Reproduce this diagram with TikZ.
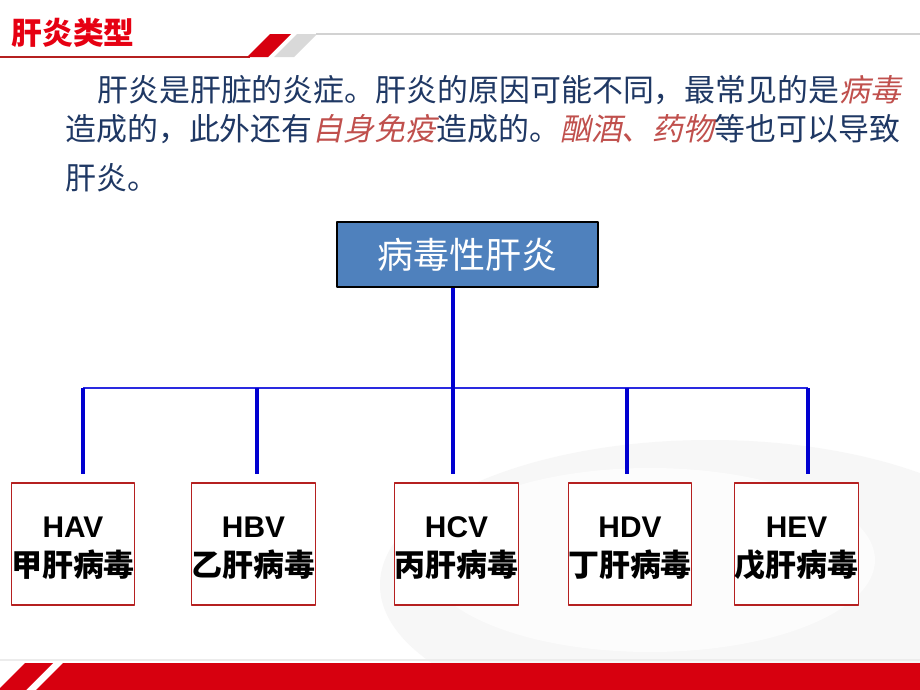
\documentclass[tikz,border=0pt]{standalone}
\usepackage{fontspec}
\setmainfont{Liberation Sans}
\newfontfamily\cjk{Noto Sans CJK SC}
\newfontfamily\cjkit[FakeSlant=0.2]{Noto Sans CJK SC}
\definecolor{titlered}{HTML}{E60012}
\definecolor{barred}{HTML}{D7000F}
\definecolor{textblue}{HTML}{1F3864}
\definecolor{wordred}{HTML}{C0504D}
\definecolor{boxblue}{HTML}{4F81BD}
\definecolor{linkblue}{HTML}{0000D0}
\definecolor{busblue}{HTML}{2A2AE0}
\definecolor{edgered}{HTML}{B52020}
\newcommand{\hlword}[1]{{\cjkit\color{wordred}#1}}
\newcommand{\vname}[2]{\raisebox{-0.1cm}[\height][\depth]{\begin{tabular}{@{}c@{}}#1\\[0pt]{\cjk\fontsize{17.6}{22}\selectfont #2}\end{tabular}}}

\begin{document}
\begin{tikzpicture}[x=0.02cm, y=-0.02cm, line join=round,
    para/.style={anchor=west, inner sep=0pt, text=textblue, font=\cjk\fontsize{17.6}{20}\selectfont},
    virus/.style={draw=edgered, line width=0.6pt, fill=white, minimum width=2.45cm, minimum height=2.44cm,
      inner sep=0pt, font=\fontsize{17}{22}\selectfont\bfseries},
    link/.style={draw=linkblue, line width=2pt, shorten >=0.16cm},
    bus/.style={draw=busblue, line width=1.3pt}]
  \useasboundingbox (0,0) rectangle (920,690);
  \fill[white] (0,0) rectangle (920,690);
  % faint plate in the background
  \fill[gray!6] (710,585) ellipse [x radius=330, y radius=145];
  \fill[gray!2] (650,560) ellipse [x radius=225, y radius=92];
  % header
  \node (title) at (73,33) {\cjk\bfseries\color{titlered}\fontsize{17.5}{20}\selectfont 肝炎类型};
  \draw[edgered, line width=0.8pt] (0,57) -- (250,57);
  \fill[barred] (247,57) -- (270,34) -- (291,34) -- (268,57) -- cycle;
  \fill[gray!30] (274,57) -- (297,34) -- (317,34) -- (294,57) -- cycle;
  \draw[gray!35, line width=1.2pt] (316,34) -- (920,34);
  % footer
  \draw[gray!15, line width=1pt] (0,660) -- (920,660);
  \fill[barred] (25,663) -- (53,663) -- (26,690) -- (-2,690) -- cycle;
  \fill[barred] (63,663) -- (920,663) -- (920,690) -- (36,690) -- cycle;
  % text
  \node[para] (l1) at (97,90) {肝炎是肝脏的炎症。肝炎的原因可能不同，最常见的是\hlword{病毒}};
  \node[para] (l2) at (65,129) {造成的，此外还有\hlword{自身免疫}造成的。\hlword{酗酒、药物}等也可以导致};
  \node[para] (l3) at (65,178) {肝炎。};
  % tree
  \node[draw=black, line width=1.2pt, fill=boxblue, minimum width=5.22cm, minimum height=1.3cm,
    text=white, font=\cjk\fontsize{20.5}{24}\selectfont] (top) at (467.5,254.5) {病毒性肝炎};
  \node[virus] (hav) at (73,544) {\vname{HAV}{甲肝病毒}};
  \node[virus] (hbv) at (253.5,544) {\vname{HBV}{乙肝病毒}};
  \node[virus] (hcv) at (456.5,544) {\vname{HCV}{丙肝病毒}};
  \node[virus] (hdv) at (630,544) {\vname{HDV}{丁肝病毒}};
  \node[virus] (hev) at (796.5,544) {\vname{HEV}{戊肝病毒}};
  \coordinate (j1) at (83,388);
  \coordinate (j2) at (257,388);
  \coordinate (j3) at (453,388);
  \coordinate (j4) at (627,388);
  \coordinate (j5) at (808,388);
  \draw[bus] (j1) -- (j5);
  \draw[link] (top.south -| j3) -- (j3 |- hcv.north);
  \draw[link] (j1) -- (j1 |- hav.north);
  \draw[link] (j2) -- (j2 |- hbv.north);
  \draw[link] (j4) -- (j4 |- hdv.north);
  \draw[link] (j5) -- (j5 |- hev.north);
\end{tikzpicture}
\end{document}
